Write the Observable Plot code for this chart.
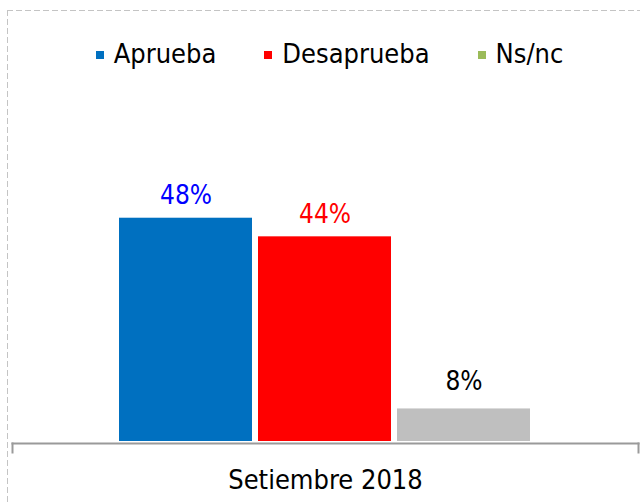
<!DOCTYPE html>
<html>
<head>
<meta charset="utf-8">
<script src="https://cdn.jsdelivr.net/npm/d3@7"></script>
<script src="https://cdn.jsdelivr.net/npm/@observablehq/plot@0.6"></script>
<style>
  html, body { margin: 0; padding: 0; background: #fff; }
  #wrap { position: relative; width: 640px; height: 502px; overflow: hidden; background: #fff;
          font-family: "DejaVu Sans Condensed", "DejaVu Sans", sans-serif; font-stretch: condensed; }
  .bt { position: absolute; left: 7px; top: 10px; width: 640px; height: 1px;
        background: repeating-linear-gradient(to right, #c4c4c4 0 6px, transparent 6px 9px); }
  .bl { position: absolute; left: 7px; top: 10px; width: 1px; height: 500px;
        background: repeating-linear-gradient(to bottom, #c4c4c4 0 6px, transparent 6px 9px); }
  #legend { position: absolute; left: 0; top: 38px; width: 640px; box-sizing: border-box; padding-left: 19px;
            display: flex; justify-content: center; align-items: center; gap: 48px;
            font-size: 27px; line-height: 31px; color: #000; }
  #legend .item { display: flex; align-items: center; white-space: nowrap; }
  #legend .sw { width: 8px; height: 8px; margin-right: 10px; margin-top: 2px; }
  #chart { position: absolute; left: 0; top: 100px; }
</style>
</head>
<body>
<div id="wrap">
  <div class="bt"></div>
  <div class="bl"></div>
  <div id="legend"></div>
  <div id="chart"></div>
</div>
<script>
const categories = ["Aprueba", "Desaprueba", "Ns/nc"];
const barValues = [48, 44, 7];
const labelValues = [48, 44, 8];
const labels = ["48%", "44%", "8%"];
const barColors = ["#0070C0", "#FF0000", "#BFBFBF"];
const labelColors = ["#0000FF", "#FF0000", "#000000"];
const legendColors = ["#0070C0", "#FF0000", "#9BBB59"];
const period = "Setiembre 2018";

const data = categories.map((c, i) => ({
  cat: c, value: barValues[i], labelValue: labelValues[i], label: labels[i],
  barColor: barColors[i], labelColor: labelColors[i]
}));

// Legend (HTML, above the SVG)
const legend = document.getElementById("legend");
categories.forEach((c, i) => {
  const item = document.createElement("div");
  item.className = "item";
  const sw = document.createElement("span");
  sw.className = "sw";
  sw.style.background = legendColors[i];
  const tx = document.createElement("span");
  tx.textContent = c;
  item.appendChild(sw);
  item.appendChild(tx);
  legend.appendChild(item);
});

const font = '"DejaVu Sans Condensed", "DejaVu Sans", sans-serif';

const chart = Plot.plot({
  width: 640,
  height: 402,
  marginLeft: 12,
  marginRight: 2,
  marginTop: 62,
  marginBottom: 50,
  style: { fontFamily: font, background: "transparent", overflow: "visible" },
  x: { type: "band", domain: categories, range: [119.3, 530.7], paddingInner: 0.042, paddingOuter: 0, axis: null },
  y: { domain: [0, 60], range: [341, 61.9], axis: null },
  color: { type: "identity" },
  marks: [
    Plot.barY(data, { x: "cat", y: "value", fill: "barColor" }),
    Plot.text(data, {
      x: "cat", y: "labelValue", text: "label", fill: "labelColor",
      lineAnchor: "bottom", dy: -14, fontSize: 26
    }),
    Plot.frame({ anchor: "top", insetTop: 281, stroke: "#9a9a9a", strokeWidth: 2 }),
    Plot.frame({ anchor: "left", insetTop: 281, stroke: "#9a9a9a", strokeWidth: 2 }),
    Plot.frame({ anchor: "right", insetTop: 281, stroke: "#9a9a9a", strokeWidth: 2 }),
    Plot.text([period], {
      frameAnchor: "bottom", text: d => d, lineAnchor: "bottom", dy: 36,
      fontSize: 27, fill: "#000"
    })
  ]
});
document.getElementById("chart").appendChild(chart);
</script>
</body>
</html>
